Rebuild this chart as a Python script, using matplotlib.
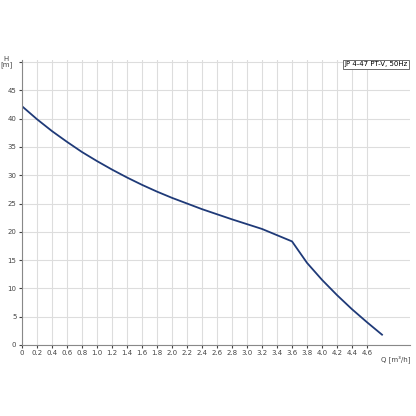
import matplotlib
matplotlib.use("Agg")
import matplotlib.pyplot as plt

q = [0, 0.2, 0.4, 0.6, 0.8, 1.0, 1.2, 1.4, 1.6, 1.8, 2.0, 2.4, 2.8, 3.2, 3.6, 3.8, 4.0, 4.2, 4.4, 4.6, 4.8]
h = [42.2, 39.9, 37.8, 35.9, 34.1, 32.5, 31.0, 29.6, 28.3, 27.1, 26.0, 24.0, 22.2, 20.5, 18.3, 14.5, 11.5, 8.8, 6.3, 4.0, 1.8]
xticks = [round(0.2 * i, 1) for i in range(24)]
xlabels = ["0"] + [f"{v:.1f}" for v in xticks[1:]]
yticks = [0, 5, 10, 15, 20, 25, 30, 35, 40, 45]

fig = plt.figure(figsize=(4.16, 4.16), dpi=100)
ax = fig.add_axes([0.053, 0.171, 0.932, 0.685])
ax.plot(q, h, color="#1f3a78", lw=1.3)
ax.set_xlim(0, 5.17)
ax.set_ylim(0, 50.4)
ax.set_xticks(xticks)
ax.set_xticklabels(xlabels, fontsize=5)
for i, t in enumerate(ax.get_xticklabels()):
    if xticks[i] > 4.6:
        t.set_visible(False)
ax.set_yticks(yticks + [50])
ax.set_yticklabels([str(v) for v in yticks] + [""], fontsize=5)
ax.grid(True, color="#dddddd", lw=0.8)
ax.set_axisbelow(True)
for s in ["top", "right"]:
    ax.spines[s].set_visible(False)
for s in ["left", "bottom"]:
    ax.spines[s].set_color("#888888")
ax.tick_params(length=2, colors="#444444", pad=2)
ax.text(-0.025, 1.015, "H\n[m]", transform=ax.transAxes, fontsize=5, ha="right", va="top",
        color="#444444", linespacing=1.0, multialignment="center")
ax.text(4.98, -1.9, "Q [m³/h]", fontsize=5, ha="center", va="top", color="#444444")
ax.text(0.995, 0.995, "JP 4-47 PT-V, 50Hz", transform=ax.transAxes, fontsize=5, ha="right", va="top",
        bbox=dict(facecolor="white", edgecolor="#555555", lw=0.6, pad=1.2))
fig.savefig("out.png", dpi=100)
